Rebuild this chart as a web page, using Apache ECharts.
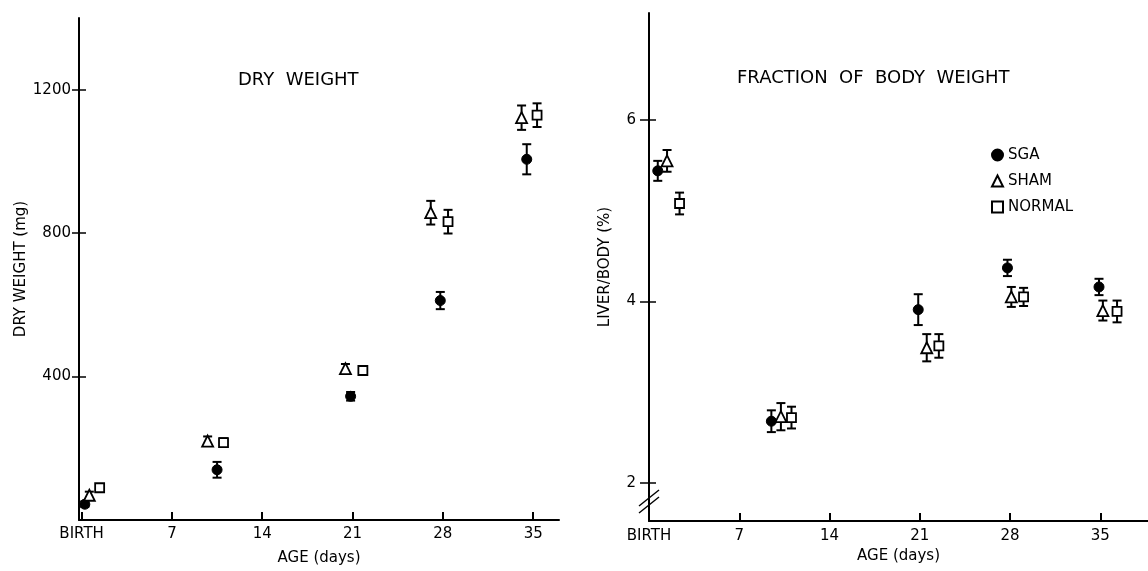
<!DOCTYPE html>
<html>
<head>
<meta charset="utf-8">
<script src="https://cdn.jsdelivr.net/npm/echarts@6/dist/echarts.min.js"></script>
<style>
  html, body { margin: 0; padding: 0; background: #fff; }
  #chart { width: 1148px; height: 571px; }
</style>
</head>
<body>
<div id="chart"></div>
<script>
var chart = echarts.init(document.getElementById('chart'));

var font = 'DejaVu Sans';
var ageTicks = [0, 7, 14, 21, 28, 35];

// dry weight (mg): day, mean, error
var dwSgaDays = [0.25, 10.5, 20.85, 27.8, 34.5];
var dwSgaVals = [44, 140, 345, 612, 1006];
var dwSgaErr = [8, 22, 12, 24, 42];
var dwShamDays = [0.6, 9.77, 20.45, 27.06, 34.1];
var dwShamVals = [69, 220, 422, 857, 1122];
var dwShamErr = [10, 13, 13, 33, 34];
var dwNormDays = [1.4, 11.0, 21.8, 28.4, 35.3];
var dwNormVals = [90, 216, 417, 832, 1129];
var dwNormErr = [5, 12, 10, 33, 33];
var dwTicks = [400, 800, 1200];

// liver / body (%)
var fbSgaDays = [0.68, 9.49, 20.88, 27.8, 34.9];
var fbSgaVals = [5.44, 2.68, 3.91, 4.37, 4.16];
var fbSgaErr = [0.11, 0.12, 0.17, 0.09, 0.09];
var fbShamDays = [1.4, 10.23, 21.54, 28.1, 35.2];
var fbShamVals = [5.55, 2.73, 3.49, 4.05, 3.90];
var fbShamErr = [0.12, 0.15, 0.15, 0.11, 0.11];
var fbNormDays = [2.37, 11.05, 22.48, 29.05, 36.3];
var fbNormVals = [5.08, 2.72, 3.51, 4.05, 3.89];
var fbNormErr = [0.12, 0.12, 0.13, 0.10, 0.12];
var fbTicks = [2, 4, 6];

function pts(days, vals, err) {
  var out = [];
  for (var i = 0; i < days.length; i++) {
    out.push([days[i], vals[i], err[i]]);
  }
  return out;
}

function errorBars(api) {
  var x = api.value(0), y = api.value(1), e = api.value(2);
  var lo = api.coord([x, y - e]);
  var hi = api.coord([x, y + e]);
  var w = 4.5;
  var st = { stroke: '#000', lineWidth: 2 };
  return {
    type: 'group',
    children: [
      { type: 'line', shape: { x1: lo[0], y1: lo[1], x2: hi[0], y2: hi[1] }, style: st },
      { type: 'line', shape: { x1: lo[0] - w, y1: lo[1], x2: lo[0] + w, y2: lo[1] }, style: st },
      { type: 'line', shape: { x1: hi[0] - w, y1: hi[1], x2: hi[0] + w, y2: hi[1] }, style: st }
    ]
  };
}

var styles = {
  SGA: { symbol: 'circle', symbolSize: 10, itemStyle: { color: '#000', borderColor: '#000', borderWidth: 1, opacity: 1 } },
  SHAM: { symbol: 'triangle', symbolSize: 11, itemStyle: { color: '#fff', borderColor: '#000', borderWidth: 1.8, opacity: 1 } },
  NORMAL: { symbol: 'rect', symbolSize: 9, itemStyle: { color: '#fff', borderColor: '#000', borderWidth: 1.8, opacity: 1 } }
};

function group(name, data, gi) {
  var s = styles[name];
  return [
    {
      type: 'custom', name: name + ' err', xAxisIndex: gi, yAxisIndex: gi,
      renderItem: function (params, api) { return errorBars(api); },
      data: data, z: 2, silent: true
    },
    {
      type: 'scatter', name: name, xAxisIndex: gi, yAxisIndex: gi,
      symbol: s.symbol, symbolSize: s.symbolSize, itemStyle: s.itemStyle,
      data: data, z: 3
    }
  ];
}

function xAxis(gi, min, max, margin, nameGap) {
  return {
    type: 'value', gridIndex: gi, min: min, max: max,
    name: 'AGE (days)', nameLocation: 'middle', nameGap: nameGap,
    nameTextStyle: { fontFamily: font, fontSize: 15, color: '#000' },
    axisLine: { show: true, onZero: false, lineStyle: { color: '#000', width: 2 } },
    axisTick: { show: true, inside: true, length: 8, customValues: ageTicks, lineStyle: { color: '#000', width: 2 } },
    axisLabel: {
      customValues: ageTicks, margin: margin,
      fontFamily: font, fontSize: 15, color: '#000',
      formatter: function (v) { return v === 0 ? 'BIRTH' : String(v); }
    },
    splitLine: { show: false }
  };
}

function yAxis(gi, min, max, ticks, name, nameGap, margin, outLen) {
  return {
    type: 'value', gridIndex: gi, position: 'left', min: min, max: max,
    name: name, nameLocation: 'middle', nameGap: nameGap,
    nameTextStyle: { fontFamily: font, fontSize: 15, color: '#000' },
    axisLine: { show: true, onZero: false, lineStyle: { color: '#000', width: 2 } },
    axisTick: { show: true, length: outLen, customValues: ticks, lineStyle: { color: '#000', width: 1.5 } },
    axisLabel: {
      customValues: ticks, margin: margin, fontFamily: font, fontSize: 15, color: '#000',
      formatter: function (v) { return String(v); }
    },
    splitLine: { show: false }
  };
}

// a right-side axis pulled back onto the left edge: draws the inner half of the crossing ticks
function yInner(gi, min, max, ticks, width) {
  return {
    type: 'value', gridIndex: gi, position: 'right', offset: -width, min: min, max: max,
    axisLine: { show: true, onZero: false, lineStyle: { color: '#000', width: 2, opacity: 0 } },
    axisTick: { show: true, length: 7, customValues: ticks, lineStyle: { color: '#000', width: 1.5, opacity: 1 } },
    axisLabel: { show: true, customValues: ticks, formatter: function () { return ''; } },
    splitLine: { show: false }
  };
}

var series = [].concat(
  group('SGA', pts(dwSgaDays, dwSgaVals, dwSgaErr), 0),
  group('SHAM', pts(dwShamDays, dwShamVals, dwShamErr), 0),
  group('NORMAL', pts(dwNormDays, dwNormVals, dwNormErr), 0),
  group('SGA', pts(fbSgaDays, fbSgaVals, fbSgaErr), 1),
  group('SHAM', pts(fbShamDays, fbShamVals, fbShamErr), 1),
  group('NORMAL', pts(fbNormDays, fbNormVals, fbNormErr), 1)
);

var option = {
  backgroundColor: '#fff',
  animation: false,
  title: [
    { text: 'DRY  WEIGHT', left: 238, top: 71, padding: 0,
      textStyle: { fontFamily: font, fontSize: 18, fontWeight: 'normal', color: '#000' } },
    { text: 'FRACTION  OF  BODY  WEIGHT', left: 737, top: 69, padding: 0,
      textStyle: { fontFamily: font, fontSize: 18, fontWeight: 'normal', color: '#000' } }
  ],
  legend: {
    orient: 'vertical', left: 991, top: 147, padding: 0,
    itemWidth: 11, itemHeight: 11, itemGap: 10, selectedMode: false,
    textStyle: { fontFamily: font, fontSize: 15, color: '#000', lineHeight: 16 },
    data: ['SGA', 'SHAM', 'NORMAL']
  },
  grid: [
    { left: 79, top: 18, width: 480, height: 508 },
    { left: 649, top: 13, width: 499, height: 508 }
  ],
  xAxis: [
    xAxis(0, -0.2, 37, 7, 31),
    xAxis(1, 0, 38.7, 8, 28)
  ],
  yAxis: [
    yAxis(0, 0, 1400, dwTicks, 'DRY WEIGHT (mg)', 50, 8, 7),
    yAxis(1, 1.58, 7.18, fbTicks, 'LIVER/BODY (%)', 36, 13, 9),
    yInner(0, 0, 1400, dwTicks, 480),
    yInner(1, 1.58, 7.18, fbTicks, 499)
  ],
  graphic: [
    { type: 'line', shape: { x1: 639, y1: 506, x2: 659, y2: 490 }, style: { stroke: '#000', lineWidth: 1.5 } },
    { type: 'line', shape: { x1: 639, y1: 513, x2: 659, y2: 497 }, style: { stroke: '#000', lineWidth: 1.5 } }
  ],
  series: series
};

chart.setOption(option);
</script>
</body>
</html>
